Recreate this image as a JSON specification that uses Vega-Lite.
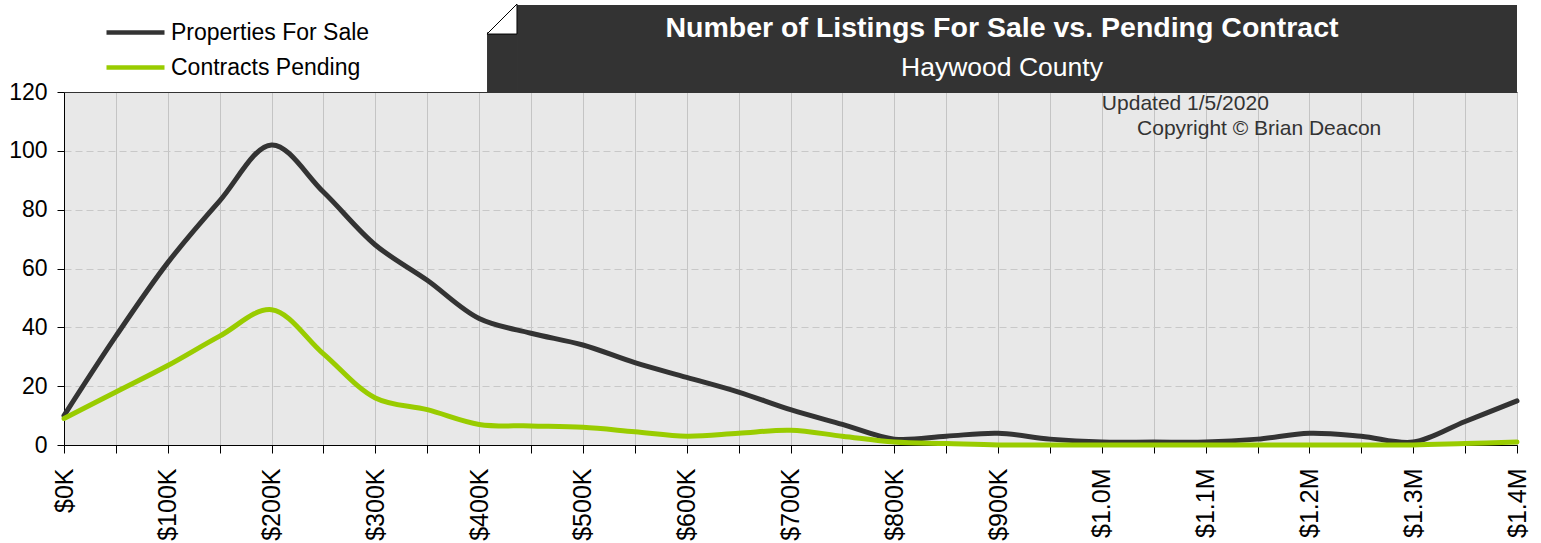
{
  "$schema": "https://vega.github.io/schema/vega-lite/v6.json",
  "width": 1453,
  "height": 353,
  "autosize": {"type": "none"},
  "padding": {"left": 64, "top": 92, "right": 24, "bottom": 98},
  "background": "white",
  "config": {
    "font": "Liberation Sans",
    "view": {"fill": "#e8e8e8", "stroke": null},
    "axis": {"labelFont": "Liberation Sans", "labelColor": "#000000", "domainColor": "#000000", "tickColor": "#000000", "title": null}
  },
  "datasets": {
    "listings": [
      {"price": 0, "series": "Properties For Sale", "count": 10},
      {"price": 50, "series": "Properties For Sale", "count": 37},
      {"price": 100, "series": "Properties For Sale", "count": 62},
      {"price": 150, "series": "Properties For Sale", "count": 83},
      {"price": 200, "series": "Properties For Sale", "count": 102},
      {"price": 250, "series": "Properties For Sale", "count": 86},
      {"price": 300, "series": "Properties For Sale", "count": 68},
      {"price": 350, "series": "Properties For Sale", "count": 56},
      {"price": 400, "series": "Properties For Sale", "count": 43},
      {"price": 450, "series": "Properties For Sale", "count": 38},
      {"price": 500, "series": "Properties For Sale", "count": 34},
      {"price": 550, "series": "Properties For Sale", "count": 28},
      {"price": 600, "series": "Properties For Sale", "count": 23},
      {"price": 650, "series": "Properties For Sale", "count": 18},
      {"price": 700, "series": "Properties For Sale", "count": 12},
      {"price": 750, "series": "Properties For Sale", "count": 7},
      {"price": 800, "series": "Properties For Sale", "count": 2},
      {"price": 850, "series": "Properties For Sale", "count": 3},
      {"price": 900, "series": "Properties For Sale", "count": 4},
      {"price": 950, "series": "Properties For Sale", "count": 2},
      {"price": 1000, "series": "Properties For Sale", "count": 1},
      {"price": 1050, "series": "Properties For Sale", "count": 1},
      {"price": 1100, "series": "Properties For Sale", "count": 1},
      {"price": 1150, "series": "Properties For Sale", "count": 2},
      {"price": 1200, "series": "Properties For Sale", "count": 4},
      {"price": 1250, "series": "Properties For Sale", "count": 3},
      {"price": 1300, "series": "Properties For Sale", "count": 1},
      {"price": 1350, "series": "Properties For Sale", "count": 8},
      {"price": 1400, "series": "Properties For Sale", "count": 15},
      {"price": 0, "series": "Contracts Pending", "count": 9},
      {"price": 50, "series": "Contracts Pending", "count": 18},
      {"price": 100, "series": "Contracts Pending", "count": 27},
      {"price": 150, "series": "Contracts Pending", "count": 37},
      {"price": 200, "series": "Contracts Pending", "count": 46},
      {"price": 250, "series": "Contracts Pending", "count": 31},
      {"price": 300, "series": "Contracts Pending", "count": 16},
      {"price": 350, "series": "Contracts Pending", "count": 12},
      {"price": 400, "series": "Contracts Pending", "count": 7},
      {"price": 450, "series": "Contracts Pending", "count": 6.5},
      {"price": 500, "series": "Contracts Pending", "count": 6},
      {"price": 550, "series": "Contracts Pending", "count": 4.5},
      {"price": 600, "series": "Contracts Pending", "count": 3},
      {"price": 650, "series": "Contracts Pending", "count": 4},
      {"price": 700, "series": "Contracts Pending", "count": 5},
      {"price": 750, "series": "Contracts Pending", "count": 3},
      {"price": 800, "series": "Contracts Pending", "count": 1},
      {"price": 850, "series": "Contracts Pending", "count": 0.5},
      {"price": 900, "series": "Contracts Pending", "count": 0},
      {"price": 950, "series": "Contracts Pending", "count": 0},
      {"price": 1000, "series": "Contracts Pending", "count": 0},
      {"price": 1050, "series": "Contracts Pending", "count": 0},
      {"price": 1100, "series": "Contracts Pending", "count": 0},
      {"price": 1150, "series": "Contracts Pending", "count": 0},
      {"price": 1200, "series": "Contracts Pending", "count": 0},
      {"price": 1250, "series": "Contracts Pending", "count": 0},
      {"price": 1300, "series": "Contracts Pending", "count": 0},
      {"price": 1350, "series": "Contracts Pending", "count": 0.5},
      {"price": 1400, "series": "Contracts Pending", "count": 1}
    ],
    "one": [{"k": 1}]
  },
  "layer": [
    {
      "data": {"name": "listings"},
      "mark": {"type": "line", "interpolate": "catmull-rom", "strokeWidth": 5, "strokeCap": "round"},
      "encoding": {
        "x": {
          "field": "price", "type": "quantitative",
          "scale": {"domain": [0, 1400], "nice": false, "zero": false},
          "axis": {
            "values": [0,50,100,150,200,250,300,350,400,450,500,550,600,650,700,750,800,850,900,950,1000,1050,1100,1150,1200,1250,1300,1350,1400],
            "labelExpr": "datum.value % 100 == 0 ? (datum.value < 1000 ? '$' + datum.value + 'K' : '$' + format(datum.value / 1000, '.1f') + 'M') : ''",
            "labelAngle": -90, "labelAlign": "right", "labelBaseline": "middle",
            "labelFontSize": 25, "labelPadding": 15, "labelOverlap": false, "labelFlush": false, "labelBound": false,
            "tickSize": 8, "grid": true, "gridColor": "#c4c4c4", "gridWidth": 1
          }
        },
        "y": {
          "field": "count", "type": "quantitative",
          "scale": {"domain": [0, 120], "nice": false},
          "axis": {
            "values": [0,20,40,60,80,100,120],
            "labelFontSize": 23, "tickSize": 7, "labelPadding": 10,
            "grid": true,
            "gridColor": {"condition": {"test": "datum.value == 120", "value": "#333333"}, "value": "#c8c8c8"},
            "gridDash": {"condition": {"test": "datum.value == 120", "value": []}, "value": [7, 4]},
            "gridWidth": 1
          }
        },
        "color": {
          "field": "series", "type": "nominal",
          "scale": {"domain": ["Properties For Sale", "Contracts Pending"], "range": ["#333333", "#99cc00"]},
          "legend": {
            "title": null, "orient": "none", "legendX": 40, "legendY": -77,
            "symbolType": "stroke", "symbolSize": 3364, "symbolStrokeWidth": 4.5,
            "labelFontSize": 23, "labelOffset": 4, "labelColor": "#000000", "labelLimit": 400,
            "clipHeight": 35, "rowPadding": 0, "padding": 0
          }
        }
      }
    },
    {
      "data": {"name": "one"},
      "mark": {"type": "rect", "fill": "#333333"},
      "encoding": {
        "x": {"datum": 436.5}, "x2": {"datum": 1400},
        "y": {"datum": 120}, "y2": {"datum": 149.6}
      }
    },
    {
      "data": {"name": "one"},
      "mark": {"type": "rect", "fill": "#333333"},
      "encoding": {
        "x": {"datum": 407.6}, "x2": {"datum": 437},
        "y": {"datum": 120}, "y2": {"datum": 140.3}
      }
    },
    {
      "data": {"name": "one"},
      "mark": {"type": "point", "shape": "M-1,1L1,-1L1,1Z", "size": 900, "filled": true, "fill": "#ffffff", "stroke": "#000000", "strokeWidth": 1, "opacity": 1},
      "encoding": {
        "x": {"datum": 422}, "y": {"datum": 144.8}
      }
    },
    {
      "data": {"name": "one"},
      "mark": {"type": "text", "text": "Number of Listings For Sale vs. Pending Contract", "font": "Liberation Sans", "fontWeight": "bold", "fontSize": 28.5, "color": "#ffffff", "align": "center", "baseline": "middle"},
      "encoding": {"x": {"datum": 903.8}, "y": {"datum": 141.7}}
    },
    {
      "data": {"name": "one"},
      "mark": {"type": "text", "text": "Haywood County", "font": "Liberation Sans", "fontSize": 26.5, "color": "#ffffff", "align": "center", "baseline": "middle"},
      "encoding": {"x": {"datum": 903.8}, "y": {"datum": 128.1}}
    },
    {
      "data": {"name": "one"},
      "mark": {"type": "text", "text": "Updated 1/5/2020", "font": "Liberation Sans", "fontSize": 21, "color": "#333333", "align": "left", "baseline": "middle"},
      "encoding": {"x": {"datum": 1000}, "y": {"datum": 115.9}}
    },
    {
      "data": {"name": "one"},
      "mark": {"type": "text", "text": "Copyright © Brian Deacon", "font": "Liberation Sans", "fontSize": 21, "color": "#333333", "align": "left", "baseline": "middle"},
      "encoding": {"x": {"datum": 1033.9}, "y": {"datum": 107.4}}
    }
  ]
}
